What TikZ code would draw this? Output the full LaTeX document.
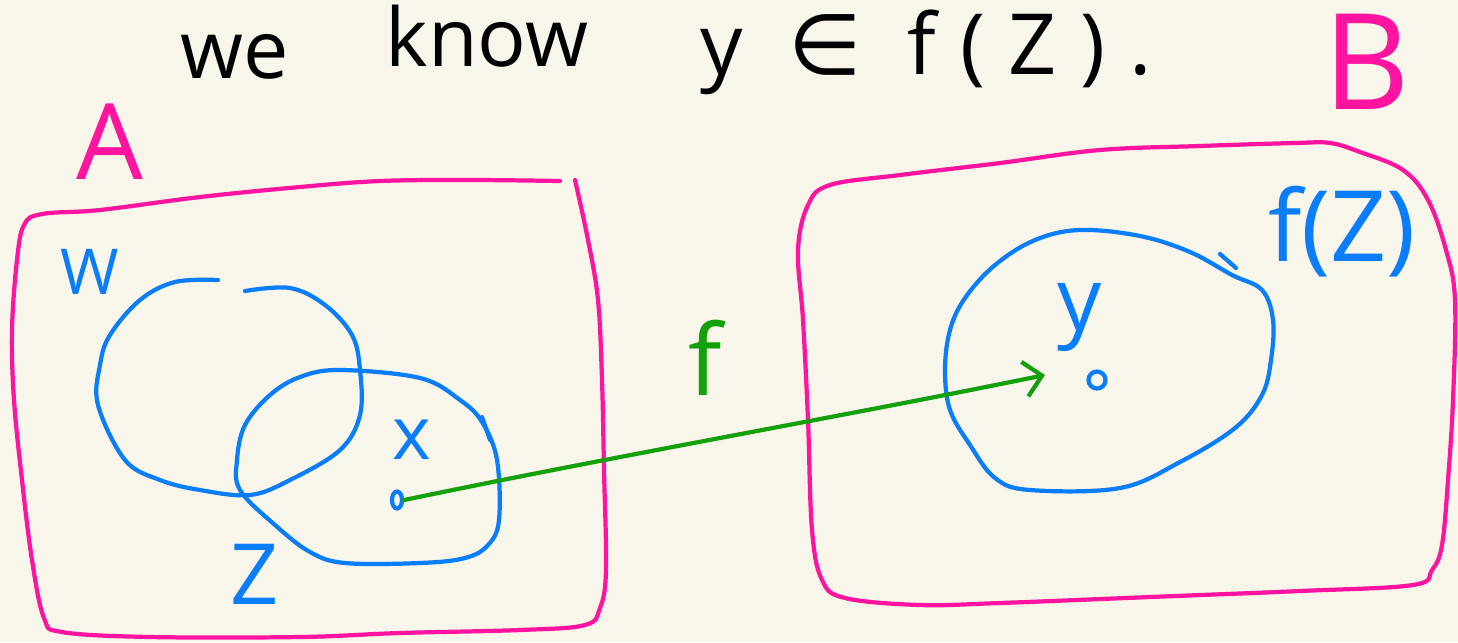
\documentclass[tikz,border=0pt]{standalone}
\usepackage{fontspec}
\setmainfont{Open Sans}
\newfontfamily\widefont[LetterSpace=28]{Open Sans}
\newfontfamily\elemfont{DejaVu Sans}
\usetikzlibrary{arrows.meta,shapes.geometric}
\definecolor{paper}{RGB}{248,246,234}
\definecolor{setpink}{RGB}{255,20,160}
\definecolor{setblue}{RGB}{10,125,250}
\definecolor{mapgreen}{RGB}{20,160,10}
\tikzset{
  pinkline/.style={setpink, line width=1.2pt, line cap=round, line join=round},
  blueline/.style={setblue, line width=1.2pt, line cap=round, line join=round},
  mapline/.style={mapgreen, line width=1.2pt, line cap=round, -{Straight Barb[length=5pt,width=10pt]}},
  lbl/.style={inner sep=0pt},
  ptmark/.style={draw=setblue, line width=1.2pt, inner sep=0pt}
}
\begin{document}
\begin{tikzpicture}[x=0.01cm, y=-0.01cm]
\fill[paper] (0,0) rectangle (1458,642);
\useasboundingbox (0,0) rectangle (1458,642);

\node[lbl, anchor=base west] (we) at (180,78) {\fontsize{23}{23}\selectfont we};
\node[lbl, anchor=base west] (know) at (385,66) {\fontsize{23}{23}\selectfont know};
\node[lbl, anchor=base west] (claim) at (700,74) {\fontsize{24}{24}\widefont y {\elemfont ∈} f(Z).};

\draw[pinkline] plot[smooth, tension=0.6] coordinates {(575,180) (588,240) (598,300) (602,380) (604,470) (606,570) (600,608) (585,625) (520,630) (400,633) (300,637) (150,637) (62,632) (44,618) (32,560) (22,480) (14,400) (12,330) (17,260) (24,225) (42,214) (100,210) (200,197) (300,187) (380,181) (470,180) (560,181)};
\draw[pinkline] plot[smooth cycle, tension=0.6] coordinates {(830,185) (900,175) (1000,163) (1100,150) (1200,146) (1295,143) (1330,143) (1360,152) (1403,170) (1428,200) (1446,250) (1455,300) (1453,400) (1448,480) (1442,545) (1432,570) (1413,585) (1300,591) (1150,597) (1000,603) (920,605) (845,598) (822,580) (812,530) (808,420) (803,320) (798,250) (808,205)};

\draw[blueline] plot[smooth, tension=0.6] coordinates {(245,291) (290,288) (325,305) (352,335) (360,370) (360,415) (340,450) (290,480) (250,495) (200,490) (160,480) (125,460) (98,405) (100,365) (110,335) (140,300) (175,282) (218,280)};
\draw[blueline] plot[smooth cycle, tension=0.6] coordinates {(340,370) (420,378) (460,400) (482,422) (497,460) (499,520) (488,545) (465,558) (420,563) (345,563) (310,552) (275,525) (240,490) (237,460) (245,425) (270,395) (300,377)};
\draw[blueline] (482,417) -- (490,440);
\draw[blueline] plot[smooth cycle, tension=0.6] coordinates {(1080,230) (1140,236) (1190,252) (1232,275) (1262,290) (1273,320) (1271,360) (1262,395) (1235,428) (1180,462) (1120,488) (1030,490) (995,478) (970,445) (950,410) (945,370) (950,330) (965,298) (995,265) (1035,240)};
\draw[blueline] (1220,254) -- (1236,268);

\node[lbl, text=setpink] (A) at (110,142) {\fontsize{30}{30}\selectfont A};
\node[lbl, text=setpink] (B) at (1367,62) {\fontsize{38}{38}\selectfont B};
\node[lbl, text=setblue] (W) at (90,272) {\fontsize{18}{18}\selectfont W};
\node[lbl, text=setblue] (Z) at (255,574) {\fontsize{24}{24}\selectfont Z};
\node[lbl, text=setblue] (xl) at (412,440) {\fontsize{21}{21}\selectfont x};
\node[lbl, text=setblue] (yl) at (1080,318) {\fontsize{25}{25}\selectfont y};
\node[lbl, text=setblue] (fZ) at (1342,232) {\fontsize{28}{28}\selectfont f(Z)};
\node[lbl, text=mapgreen] (fl) at (705,358) {\fontsize{28}{28}\selectfont f};

\node[ptmark, ellipse, minimum width=0.1cm, minimum height=0.17cm] (xpt) at (397,500) {};
\node[ptmark, circle, minimum size=0.17cm] (ypt) at (1097,380) {};
\coordinate (ftip) at (1045,375);

\draw[mapline] (xpt.east) .. controls (620,455) and (850,415) .. (ftip);
\end{tikzpicture}
\end{document}
